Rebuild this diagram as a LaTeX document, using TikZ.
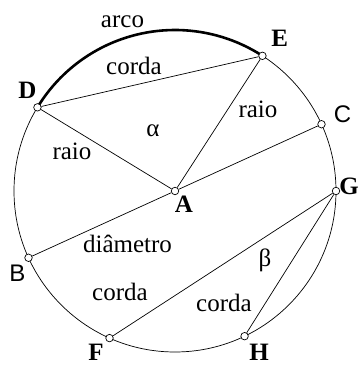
\documentclass[tikz,border=0pt]{standalone}
\usepackage{fontspec}
\setmainfont{Liberation Serif}
\newfontfamily\sansf{Liberation Sans}
\begin{document}
\begin{tikzpicture}[x=1pt,y=1pt,
  pt/.style={circle,draw,fill=white,line width=0.7pt,inner sep=0pt,minimum size=7.5pt},
  lbl/.style={anchor=base,inner sep=0pt,font=\fontsize{25}{28}\selectfont},
  ptl/.style={anchor=base,inner sep=0pt,font=\fontsize{25}{28}\selectfont\bfseries},
  ptls/.style={anchor=base,inner sep=0pt,font=\fontsize{24}{28}\selectfont\sansf},
  ln/.style={line width=0.7pt}]
\useasboundingbox (-175,-175) rectangle (188,191);
\coordinate (O) at (0,0);
\draw[ln] (O) circle[radius=161];
\draw[line width=2.6pt] (148.7:161) arc[start angle=148.7,end angle=57.1,radius=161];
\node[pt] (A) at (0,0) {};
\node[pt] (D) at (148.7:161) {};
\node[pt] (E) at (57.1:161) {};
\node[pt] (C) at (24.5:161) {};
\node[pt] (B) at (204.5:161) {};
\node[pt] (G) at (0:161) {};
\node[pt] (F) at (246:161) {};
\node[pt] (H) at (295.6:161) {};
\draw[ln] (D) -- (E);
\draw[ln] (D) -- (A);
\draw[ln] (E) -- (A);
\draw[ln] (C) -- (A);
\draw[ln] (B) -- (A);
\draw[ln] (F) -- (G);
\draw[ln] (H) -- (G);
\node[lbl] (larco) at (-52.5,163) {arco};
\node[lbl] (lcorda1) at (-41,116) {corda};
\node[lbl] (lraio1) at (83,73) {raio};
\node[lbl] (lalpha) at (-22,54) {α};
\node[lbl] (lraio2) at (-103,31) {raio};
\node[lbl] (ldiam) at (-47.5,-62) {diâmetro};
\node[lbl] (lbeta) at (90,-76) {β};
\node[lbl] (lcorda2) at (-55,-110) {corda};
\node[lbl] (lcorda3) at (49,-120) {corda};
\node[ptl] (tD) at (-147.5,92) {D};
\node[ptl] (tE) at (104.7,144) {E};
\node[ptls] (tC) at (167.5,68) {C};
\node[ptl] (tA) at (9,-22) {A};
\node[ptl] (tG) at (174,-4) {G};
\node[ptls] (tB) at (-157.5,-91) {B};
\node[ptl] (tF) at (-79,-169) {F};
\node[ptl] (tH) at (84,-169) {H};
\end{tikzpicture}
\end{document}
